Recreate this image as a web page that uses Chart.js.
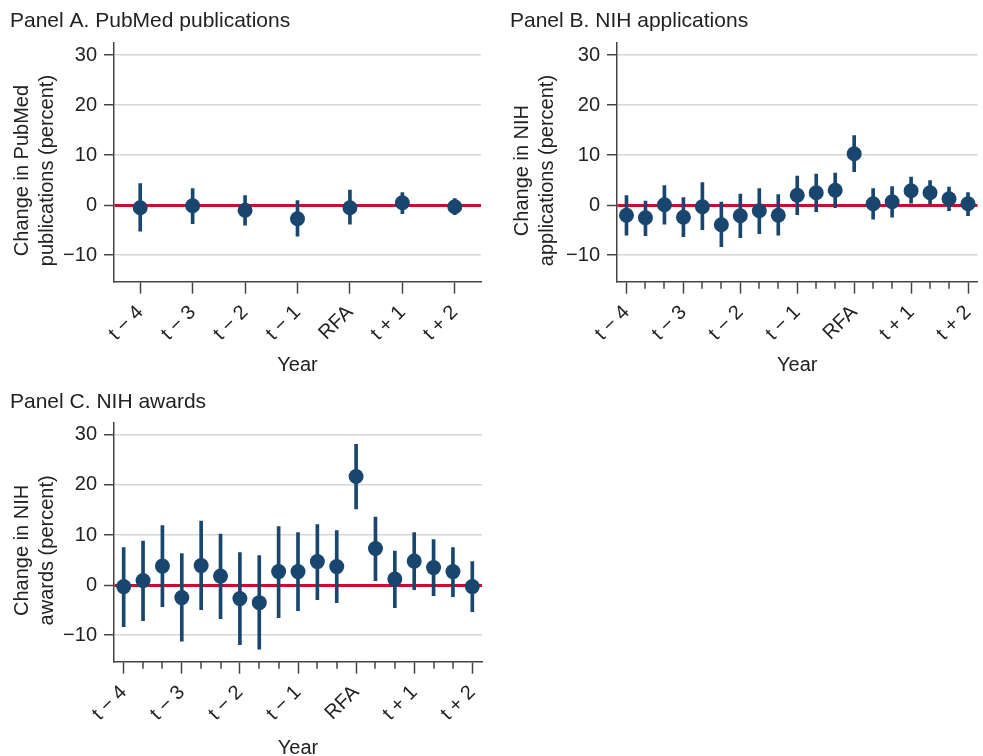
<!DOCTYPE html>
<html lang="en">
<head>
<meta charset="UTF-8">
<title>RFA event study: publications, applications and awards</title>
<script src="https://cdn.jsdelivr.net/npm/chart.js"></script>
<style>
  html, body { margin: 0; padding: 0; background: #fff; overflow: hidden; width: 983px; height: 756px; }
  canvas { position: absolute; }
  #chartA { left: 0; top: 0; }
  #chartB { left: 490px; top: 0; }
  #chartC { left: 0; top: 390px; }
</style>
</head>
<body>
<canvas id="chartA" width="490" height="385"></canvas>
<canvas id="chartB" width="495" height="385"></canvas>
<canvas id="chartC" width="490" height="380"></canvas>
<script>
// year labels on the x axis (one per year, quarters in between for B and C)
const yearLabels = ['t − 4', 't − 3', 't − 2', 't − 1', 'RFA', 't + 1', 't + 2'];
const yTicks = [-10, 0, 10, 20, 30];
const yMin = -15.3;
const yMax = 32.5;

// Panel A: PubMed publications (one estimate per year)
const pubEst = [-0.5, -0.1, -1.0, -2.7, -0.5, 0.5, -0.3];
const pubLo  = [-5.2, -3.7, -4.0, -6.2, -3.8, -1.7, -1.9];
const pubHi  = [4.3, 3.3, 1.9, 0.9, 3.0, 2.5, 1.3];

// Panel B: NIH applications (three estimates per year)
const appEst = [-2.0, -2.5, 0.1, -2.4, -0.3, -3.9, -2.1, -1.1, -2.0, 2.0, 2.5, 3.0, 10.3, 0.3, 0.7, 2.9, 2.5, 1.3, 0.3];
const appLo  = [-6.0, -6.1, -3.8, -6.3, -4.9, -8.3, -6.5, -5.7, -6.0, -1.9, -1.3, -0.5, 6.7, -2.8, -2.4, 0.4, 0.0, -1.1, -2.1];
const appHi  = [1.9, 0.8, 3.9, 1.5, 4.5, 0.6, 2.2, 3.3, 2.1, 5.8, 6.2, 6.4, 13.9, 3.3, 3.7, 5.6, 4.9, 3.6, 2.5];

// Panel C: NIH awards
const awdEst = [-0.3, 0.9, 3.8, -2.5, 3.9, 1.8, -2.7, -3.5, 2.7, 2.7, 4.7, 3.7, 21.7, 7.3, 1.2, 4.8, 3.5, 2.7, -0.3];
const awdLo  = [-8.3, -7.1, -4.3, -11.2, -4.9, -6.7, -11.9, -12.8, -6.5, -5.1, -2.9, -3.5, 15.2, 0.9, -4.5, -0.9, -2.1, -2.3, -5.3];
const awdHi  = [7.5, 8.8, 11.9, 6.3, 12.8, 10.2, 6.5, 5.9, 11.7, 10.5, 12.1, 10.9, 28.1, 13.6, 6.8, 10.5, 9.1, 7.5, 4.7];

const dotColor = '#18466f';
const axisColor = '#444444';
const gridColor = '#d6d6d6';
const zeroColor = '#c8102e';
const textColor = '#222222';
const family = '"Liberation Sans", Arial, Helvetica, sans-serif';

// short ticks for the in-between quarters
const minorTicks = {
  id: 'minorTicks',
  afterDraw(chart, args, opts) {
    if (opts.perYear < 2) return;
    const x = chart.scales.x;
    const ctx = chart.ctx;
    ctx.save();
    ctx.strokeStyle = axisColor;
    ctx.lineWidth = 1.5;
    for (let i = 0; i < x.ticks.length; i++) {
      if (i % opts.perYear === 0) continue;
      const px = Math.round(x.getPixelForTick(i));
      ctx.beginPath();
      ctx.moveTo(px, x.top);
      ctx.lineTo(px, x.top + 7);
      ctx.stroke();
    }
    ctx.restore();
  }
};

function buildChart(id, c) {
  const labels = c.est.map((_, i) => i % c.perYear === 0 ? yearLabels[i / c.perYear] : '');
  // trailing spaces nudge the rotated title a little lower, as in the original
  const yTitle = c.yTitle.map(s => s + '   ');
  return new Chart(document.getElementById(id), {
    type: 'bar',
    data: {
      labels: labels,
      datasets: [
        {
          type: 'line',
          data: c.est,
          showLine: false,
          pointRadius: 7.5,
          pointHoverRadius: 7.5,
          pointBackgroundColor: dotColor,
          pointBorderWidth: 0,
          order: 0
        },
        {
          type: 'bar',
          data: c.lo.map((v, i) => [v, c.hi[i]]),
          backgroundColor: dotColor,
          barThickness: 3,
          order: 1
        }
      ]
    },
    plugins: [minorTicks],
    options: {
      responsive: false,
      animation: false,
      layout: { padding: c.pad },
      plugins: {
        legend: { display: false },
        tooltip: { enabled: false },
        minorTicks: { perYear: c.perYear },
        title: {
          display: true,
          text: c.title,
          align: 'start',
          color: textColor,
          font: { family: family, size: 21, weight: 'normal' },
          padding: c.titlePad
        }
      },
      scales: {
        x: {
          offset: true,
          grid: {
            offset: false,
            drawOnChartArea: false,
            tickLength: 12,
            tickWidth: 1.5,
            tickColor: ctx => ctx.index % c.perYear === 0 ? axisColor : 'rgba(0,0,0,0)'
          },
          border: { color: axisColor, width: 1.5 },
          ticks: {
            autoSkip: false,
            minRotation: 45,
            maxRotation: 45,
            padding: 7,
            color: textColor,
            font: { family: family, size: 20 }
          },
          title: {
            display: true,
            text: 'Year',
            color: textColor,
            font: { family: family, size: 20 },
            padding: { top: 0, bottom: c.yearPad }
          },
          afterFit: s => { s.height = c.xHeight; s.paddingLeft = 0; s.paddingRight = 0; }
        },
        y: {
          min: yMin,
          max: yMax,
          afterBuildTicks: s => { s.ticks = yTicks.map(v => ({ value: v })); },
          grid: {
            color: ctx => ctx.tick && ctx.tick.value === 0 ? zeroColor : gridColor,
            lineWidth: ctx => ctx.tick && ctx.tick.value === 0 ? 3 : 1.5,
            tickLength: 10,
            tickWidth: 1.5,
            tickColor: axisColor
          },
          border: { color: axisColor, width: 1.5 },
          ticks: {
            padding: 7,
            color: textColor,
            font: { family: family, size: 20 },
            callback: v => v < 0 ? '\u2212' + Math.abs(v) : String(v)
          },
          title: {
            display: true,
            text: yTitle,
            color: textColor,
            font: { family: family, size: 20, lineHeight: 1.25 },
            padding: { top: 0, bottom: 0 }
          },
          afterFit: s => { s.width = c.yWidth; s.paddingTop = 0; s.paddingBottom = 0; }
        }
      }
    }
  });
}

buildChart('chartA', {
  title: 'Panel A. PubMed publications',
  yTitle: ['Change in PubMed', 'publications (percent)'],
  est: pubEst, lo: pubLo, hi: pubHi, perYear: 1,
  pad: { left: 10, right: 9, top: 6, bottom: 0 },
  titlePad: { top: 3, bottom: 8.5 },
  yWidth: 104, xHeight: 103.3, yearPad: 8
});

buildChart('chartB', {
  title: 'Panel B. NIH applications',
  yTitle: ['Change in NIH', 'applications (percent)'],
  est: appEst, lo: appLo, hi: appHi, perYear: 3,
  pad: { left: 20, right: 1, top: 6, bottom: 0 },
  titlePad: { top: 3, bottom: 8.5 },
  yWidth: 107, xHeight: 103.3, yearPad: 8
});

buildChart('chartC', {
  title: 'Panel C. NIH awards',
  yTitle: ['Change in NIH', 'awards (percent)'],
  est: awdEst, lo: awdLo, hi: awdHi, perYear: 3,
  pad: { left: 10, right: 8, top: 0, bottom: 0 },
  titlePad: { top: 0, bottom: 7.2 },
  yWidth: 104, xHeight: 108.3, yearPad: 10
});
</script>
</body>
</html>
